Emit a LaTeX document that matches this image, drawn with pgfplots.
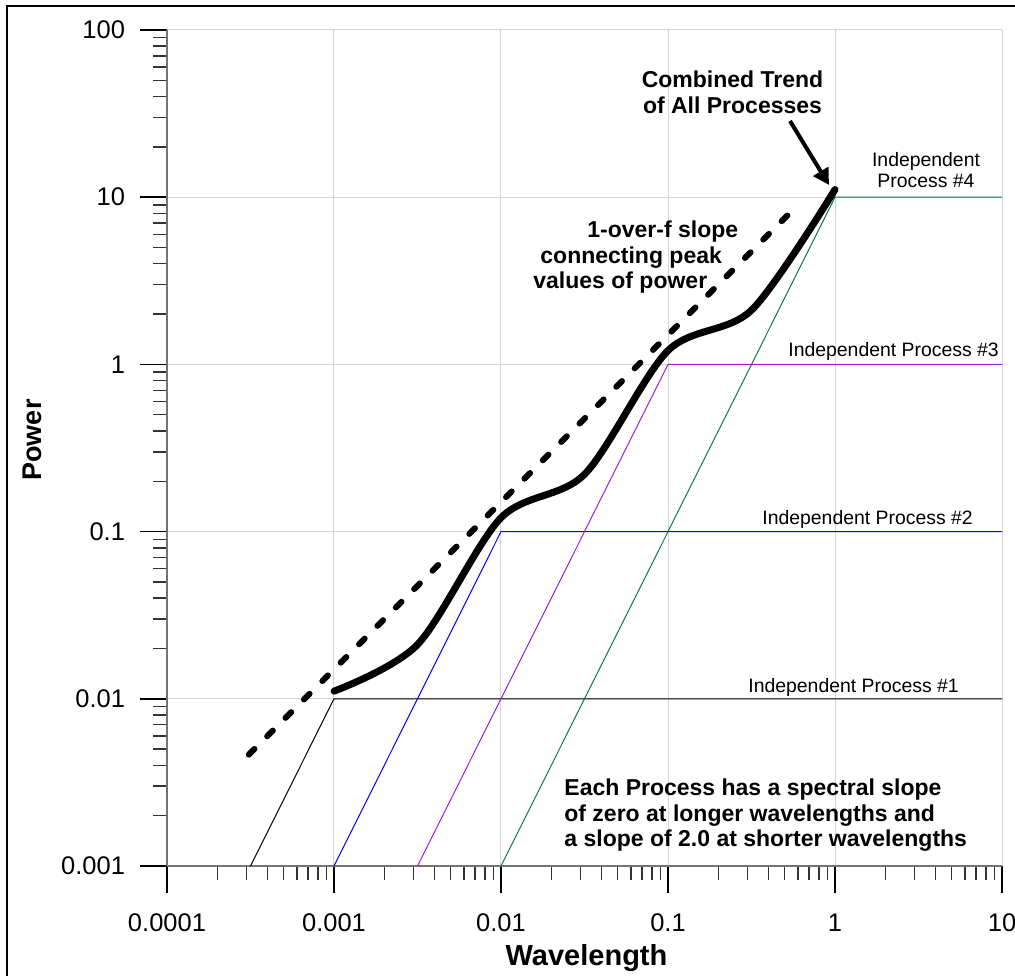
\documentclass[border=0pt]{standalone}
\usepackage{fontspec}
\setmainfont{Liberation Sans}
\usepackage{pgfplots}
\pgfplotsset{compat=1.18}
\usetikzlibrary{arrows.meta}
\definecolor{gridgray}{RGB}{212,212,212}
\definecolor{pblue}{RGB}{0,0,255}
\definecolor{ppurple}{RGB}{165,25,225}
\definecolor{pgreen}{RGB}{10,120,70}
\newcommand\bfa{\fontsize{11.5}{12.75}\selectfont\bfseries}
\newcommand\ipf{\fontsize{9.7}{11}\selectfont}
\begin{document}
\begin{tikzpicture}
\begin{axis}[
  at={(83.5pt,54.5pt)}, anchor=south west,
  scale only axis, width=417.5pt, height=418pt,
  xmode=log, ymode=log,
  xmin=1e-4, xmax=10, ymin=1e-3, ymax=100,
  axis lines*=left,
  axis line style={black!55, line width=1pt},
  tick align=outside,
  major tick length=13.5pt, minor tick length=7pt,
  every major tick/.append style={black, line width=0.75pt},
  every minor tick/.append style={black!80, line width=0.75pt},
  xtick={1e-4,1e-3,1e-2,1e-1,1,10},
  xticklabels={0.0001,0.001,0.01,0.1,1,10},
  ytick={1e-3,1e-2,1e-1,1,10,100},
  yticklabels={0.001,0.01,0.1,1,10,100},
  minor xtick={2e-4,3e-4,4e-4,5e-4,6e-4,7e-4,8e-4,9e-4,
    2e-3,3e-3,4e-3,5e-3,6e-3,7e-3,8e-3,9e-3,
    2e-2,3e-2,4e-2,5e-2,6e-2,7e-2,8e-2,9e-2,
    0.2,0.3,0.4,0.5,0.6,0.7,0.8,0.9,
    2,3,4,5,6,7,8,9},
  minor ytick={2e-3,3e-3,4e-3,5e-3,6e-3,7e-3,8e-3,9e-3,
    2e-2,3e-2,4e-2,5e-2,6e-2,7e-2,8e-2,9e-2,
    0.2,0.3,0.4,0.5,0.6,0.7,0.8,0.9,
    2,3,4,5,6,7,8,9,
    20,30,40,50,60,70,80,90},
  grid=major,
  major grid style={gridgray, line width=0.5pt},
  tick label style={font=\fontsize{12.75}{15}\selectfont},
  /pgf/number format/assume math mode=true,
  xticklabel shift=7pt,
  yticklabel shift=4pt,
  clip=false,
]
% Independent processes
\addplot[black, line width=0.5pt] coordinates {(3.1623e-4,1e-3) (1e-3,1e-2) (10,1e-2)};
\addplot[pblue, line width=0.5pt] coordinates {(1e-3,1e-3) (1e-2,1e-1) (10,1e-1)};
\addplot[ppurple, line width=0.5pt] coordinates {(3.1623e-3,1e-3) (1e-1,1) (10,1)};
\addplot[pgreen, line width=0.5pt] coordinates {(1e-2,1e-3) (1,10) (10,10)};
% 1-over-f slope
\addplot[black, line width=3pt, line cap=round, dash pattern=on 4pt off 9pt] coordinates {(3.09e-4,4.635e-3) (0.594,8.91)};
% combined trend
\addplot[black, line width=3.5pt, smooth, line join=round, line cap=round] coordinates {
(0.001,0.01111) (0.0031623,0.0211) (0.01,0.121)
(0.031623,0.22) (0.1,1.21)
(0.31623,2.11) (1,11.11)};
\end{axis}
\begin{scope}[shift={(0pt,487.5pt)}, x=0.5pt, y=-0.5pt]
\draw[line width=1pt] (7,6) rectangle (1040,1000);
\node[rotate=90, font=\fontsize{13.5}{15}\selectfont\bfseries] at (32.5,440) {Power};
\node[anchor=base, font=\fontsize{14.5}{16}\selectfont\bfseries] at (586.5,965) {Wavelength};
\node[anchor=base, inner sep=0pt, font=\bfa] at (732.5,87.5) {Combined Trend};
\node[anchor=base, inner sep=0pt, font=\bfa] at (732.5,113.5) {of All Processes};
\draw[line width=2pt, -{Triangle[length=8pt,width=8.5pt]}] (790,121) -- (829,185);
\node[anchor=base west, inner sep=0pt, font=\bfa] at (587,238) {1-over-f slope};
\node[anchor=base west, inner sep=0pt, font=\bfa] at (540,263.5) {connecting peak};
\node[anchor=base west, inner sep=0pt, font=\bfa] at (533,289) {values of power};
\node[anchor=base, inner sep=0pt, font=\ipf] at (926,167) {Independent};
\node[anchor=base, inner sep=0pt, font=\ipf] at (926,188) {Process \#4};
\node[anchor=base west, inner sep=0pt, font=\ipf] at (788,357) {Independent Process \#3};
\node[anchor=base west, inner sep=0pt, font=\ipf] at (762,524) {Independent Process \#2};
\node[anchor=base west, inner sep=0pt, font=\ipf] at (748,692) {Independent Process \#1};
\node[anchor=base west, inner sep=0pt, font=\bfa] at (564,795.5) {Each Process has a spectral slope};
\node[anchor=base west, inner sep=0pt, font=\bfa] at (564,821) {of zero at longer wavelengths and};
\node[anchor=base west, inner sep=0pt, font=\bfa] at (564,846.5) {a slope of 2.0 at shorter wavelengths};
\end{scope}
\pgfresetboundingbox
\useasboundingbox (0,0) rectangle (507.5pt,487.5pt);
\end{tikzpicture}
\end{document}
